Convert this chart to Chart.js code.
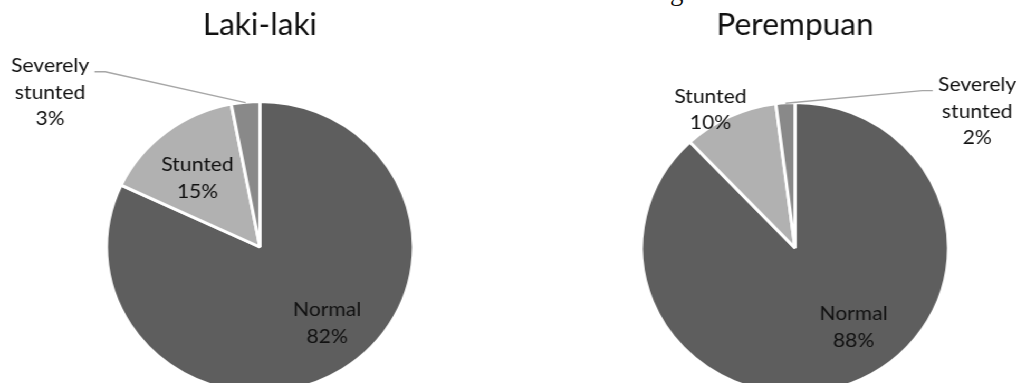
<!DOCTYPE html>
<html>
<head>
<meta charset="utf-8">
<script src="https://cdn.jsdelivr.net/npm/chart.js@4.4.1/dist/chart.umd.min.js"></script>
<style>
  html, body { margin: 0; padding: 0; background: #fff; }
  body { width: 1021px; height: 383px; overflow: hidden; position: relative; }
  #cutline { position: absolute; left: 583px; top: -22px; font: 27px "Liberation Serif", serif; line-height: 26px; color: #111; white-space: nowrap; }
  #wrap { position: absolute; left: 0; top: 0; width: 968px; height: 420px; transform: scaleX(1.055); transform-origin: 0 0; }
  .box { position: absolute; top: 0; width: 484px; height: 420px; }
</style>
</head>
<body>
<div id="cutline">kekurangan</div>
<div id="wrap">
  <div class="box" style="left:0"><canvas id="chart1"></canvas></div>
  <div class="box" style="left:484px"><canvas id="chart2"></canvas></div>
</div>
<script>
const CATEGORIES = ["Normal", "Stunted", "Severely stunted"];
const LAKI_VALUES = [82, 15, 3];
const PEREMPUAN_VALUES = [88, 10, 2];
const TITLES = ["Laki-laki", "Perempuan"];

const SLICE_COLORS = ["#5e5e5e", "#b1b1b1", "#898989"];

// draws "Name / xx%" labels on (or beside) each slice, with leader lines
const sliceLabels = {
  id: "sliceLabels",
  afterDatasetsDraw(chart, args, opts) {
    const ctx = chart.ctx;
    const meta = chart.getDatasetMeta(0);
    const values = chart.data.datasets[0].data;
    const total = values.reduce((a, b) => a + b, 0);
    ctx.save();
    ctx.font = opts.font;
    ctx.fillStyle = opts.color;
    ctx.strokeStyle = opts.lineColor;
    ctx.lineWidth = 1.4;
    ctx.textAlign = "center";
    ctx.textBaseline = "middle";
    meta.data.forEach((arc, i) => {
      const p = opts.place[i];
      const { x, y, startAngle, endAngle, outerRadius } =
        arc.getProps(["x", "y", "startAngle", "endAngle", "outerRadius"], true);
      const mid = (startAngle + endAngle) / 2;
      const a = mid + p.da * Math.PI / 180;
      const r = outerRadius - 1.5;
      const lx = x + Math.cos(a) * r * p.f;
      const ly = y + Math.sin(a) * r * p.f;
      const lines = [...chart.data.labels[i].split(" "), Math.round(values[i] / total * 100) + "%"];
      const top = ly - (lines.length - 1) * opts.lineHeight / 2;
      lines.forEach((t, k) => ctx.fillText(t, lx, top + k * opts.lineHeight));

      if (p.leader) {
        const w = Math.max(...lines.map(t => ctx.measureText(t).width));
        const dir = p.leader;
        const sx = lx + dir * (w / 2 + 5);
        const sy = top + 6;
        ctx.beginPath();
        ctx.moveTo(sx, sy);
        ctx.lineTo(sx + dir * 10, sy);
        ctx.lineTo(x + Math.cos(mid) * (r + 1), y + Math.sin(mid) * (r + 1));
        ctx.stroke();
      }
    });
    ctx.restore();
  }
};

function createChart(id, title, values, padding, titlePad, place) {
  return new Chart(document.getElementById(id), {
    type: "pie",
    data: {
      labels: CATEGORIES,
      datasets: [{
        data: values,
        backgroundColor: SLICE_COLORS,
        borderColor: "#ffffff",
        borderWidth: 3,
        hoverOffset: 0
      }]
    },
    options: {
      responsive: true,
      maintainAspectRatio: false,
      animation: false,
      events: [],
      layout: { padding: padding },
      plugins: {
        legend: { display: false },
        tooltip: { enabled: false },
        title: {
          display: true,
          text: title,
          color: "#111111",
          font: { family: "Lato", size: 30, weight: "normal" },
          padding: titlePad
        },
        sliceLabels: {
          font: "20px Lato",
          color: "#111111",
          lineColor: "#a6a6a6",
          lineHeight: 26.5,
          place: place
        }
      }
    },
    plugins: [sliceLabels]
  });
}

document.fonts.load("20px Lato").then(() => {
  createChart("chart1", TITLES[0], LAKI_VALUES,
    { left: 99.4, right: 90.6, top: 0, bottom: 26 },
    { top: 7.5, bottom: 56.5 },
    [
      { f: 0.69, da: -7.5 },
      { f: 0.63, da: -2.9 },
      { f: 1.75, da: -46.7, leader: 1 }
    ]);

  createChart("chart2", TITLES[1], PEREMPUAN_VALUES,
    { left: 122.6, right: 67.4, top: 0, bottom: 25 },
    { top: 7.5, bottom: 57.5 },
    [
      { f: 0.67, da: -13.5 },
      { f: 1.11, da: -4.9 },
      { f: 1.53, da: 55.2, leader: -1 }
    ]);
});
</script>
</body>
</html>
